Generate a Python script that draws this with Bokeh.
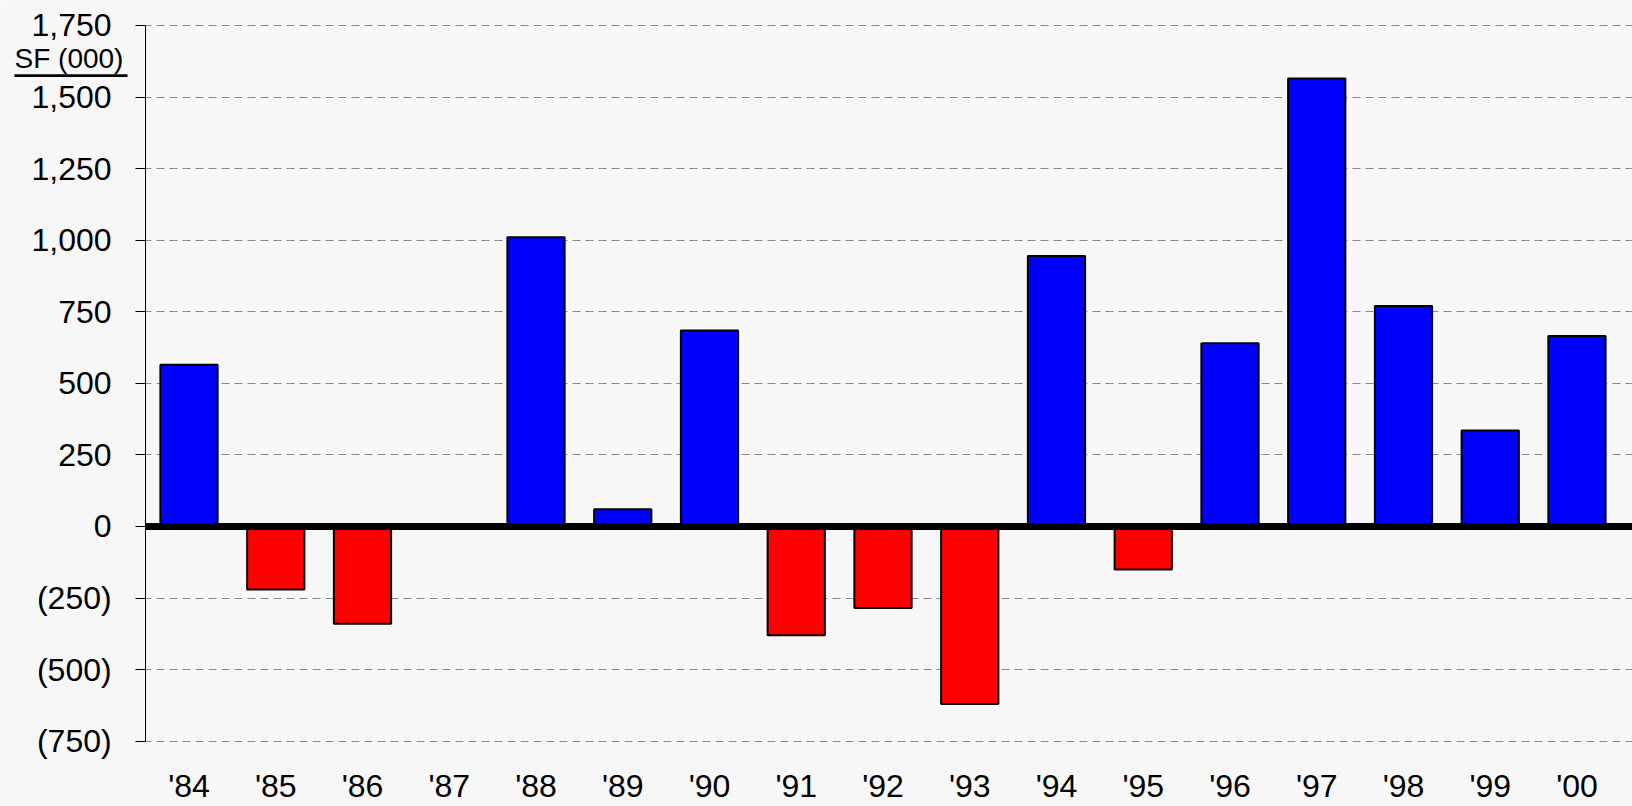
from bokeh.plotting import figure
from bokeh.models import (ColumnDataSource, Range1d, FixedTicker,
                          NumeralTickFormatter, Label, BoxAnnotation)
from bokeh.embed import file_html
from bokeh.resources import INLINE

# ---- data ----
years = ["'84", "'85", "'86", "'87", "'88", "'89", "'90", "'91", "'92",
         "'93", "'94", "'95", "'96", "'97", "'98", "'99", "'00"]
absorption = [565, -220, -340, 0, 1010, 60, 685, -380, -285,
              -620, 945, -150, 640, 1565, 770, 335, 665]
y_ticks = [-750, -500, -250, 0, 250, 500, 750, 1000, 1250, 1500, 1750]
unit_label = "SF (000)"

x_idx = list(range(len(years)))
colors = ["#0000FF" if v >= 0 else "#FF0000" for v in absorption]
src = ColumnDataSource(dict(x=x_idx, val=absorption, color=colors))

BG = "#f7f7f7"
FONT = "Liberation Sans"
Y_MIN, Y_MAX = y_ticks[0], y_ticks[-1]
X_AXIS_POS = -0.5          # y axis sits half a slot left of the first bar

# frame covers the whole canvas; axes are placed at fixed locations inside it
p = figure(width=1632, height=806, output_backend="svg", toolbar_location=None,
           x_range=Range1d(-2.173, 16.640), y_range=Range1d(-978.1, 1837.3),
           min_border_left=0, min_border_right=0, min_border_top=0,
           min_border_bottom=0,
           background_fill_color=BG, border_fill_color=BG)
p.outline_line_color = None

# grid
p.xgrid.grid_line_color = None
yticker = FixedTicker(ticks=y_ticks)
p.ygrid.ticker = yticker
p.ygrid.grid_line_color = "#8c8c8c"
p.ygrid.grid_line_dash = "8 5"
p.ygrid.grid_line_width = 1

# hide grid lines left of the y axis
p.add_layout(BoxAnnotation(right=X_AXIS_POS, fill_color=BG, fill_alpha=1.0,
                           line_color=None, level="underlay"))

p.vbar(x="x", top="val", bottom=0, width=0.66, source=src,
       fill_color="color", line_color="black", line_width=2)

# thick zero line starting at the axis
p.add_layout(BoxAnnotation(left=X_AXIS_POS, top=12.5, bottom=-12.5,
                           fill_color="black", fill_alpha=1.0,
                           line_color=None))

# y axis
ya = p.yaxis[0]
ya.fixed_location = X_AXIS_POS
ya.bounds = (Y_MIN, Y_MAX)
ya.ticker = yticker
ya.formatter = NumeralTickFormatter(format="(0,0)")
ya.axis_line_color = "black"
ya.axis_line_width = 1
ya.major_tick_out = 10
ya.major_tick_in = 0
ya.major_tick_line_color = "black"
ya.minor_tick_line_color = None
ya.major_label_standoff = 24
ya.major_label_text_font = FONT
ya.major_label_text_font_size = "32px"
ya.major_label_text_color = "black"

# x axis
xa = p.xaxis[0]
xa.fixed_location = Y_MIN
xa.ticker = FixedTicker(ticks=x_idx)
xa.major_label_overrides = {i: y for i, y in zip(x_idx, years)}
xa.axis_line_color = None
xa.major_tick_line_color = None
xa.minor_tick_line_color = None
xa.major_tick_out = 0
xa.major_label_standoff = 27
xa.major_label_text_font = FONT
xa.major_label_text_font_size = "32px"
xa.major_label_text_color = "black"

# unit label with underline
p.add_layout(Label(x=14, y=1633, x_units="screen", y_units="data",
                   text=unit_label, text_font=FONT, text_font_size="28px",
                   text_color="black", text_baseline="middle",
                   text_align="left"))
p.add_layout(BoxAnnotation(left=14, right=127, left_units="screen",
                           right_units="screen", top=1580, bottom=1570,
                           fill_color="black", fill_alpha=1.0,
                           line_color=None))

open("out.html", "w").write(file_html(p, INLINE))
